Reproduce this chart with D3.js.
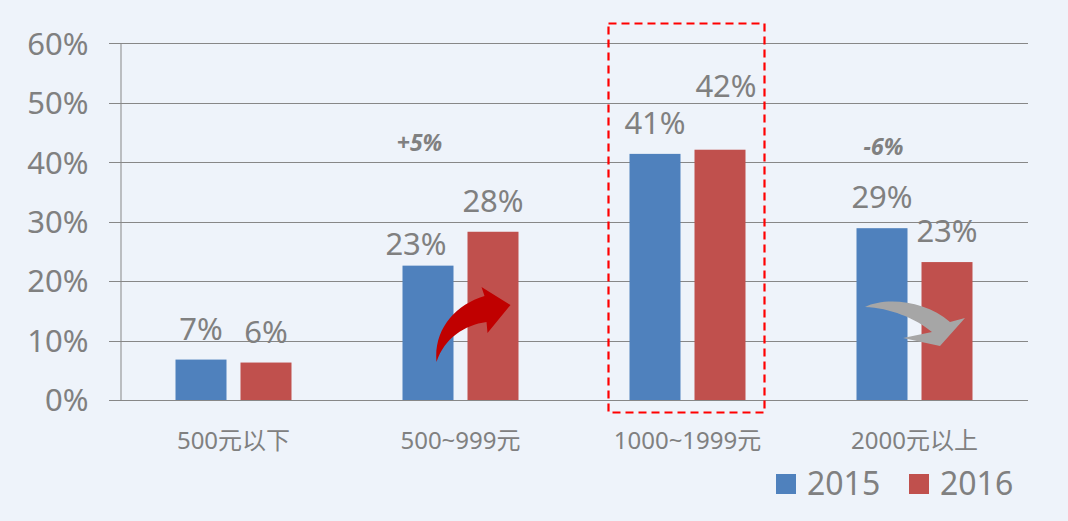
<!DOCTYPE html>
<html>
<head>
<meta charset="utf-8">
<script src="https://cdn.jsdelivr.net/npm/d3@7"></script>
<style>
  html, body { margin: 0; padding: 0; background: #EEF3FA; }
  svg { display: block; }
  text { font-family: "Noto Sans", "Noto Sans CJK SC", sans-serif; fill: #808080; }
</style>
</head>
<body>
<svg id="chart" width="1068" height="521"></svg>
<script>
// ---- data ----
const categories = ["500元以下", "500~999元", "1000~1999元", "2000元以上"];
const seriesNames = ["2015", "2016"];
const values2015 = [6.8, 22.6, 41.4, 28.9];
const values2016 = [6.3, 28.3, 42.1, 23.2];
const labels2015 = ["7%", "23%", "41%", "29%"];
const labels2016 = ["6%", "28%", "42%", "23%"];
const yTicks = [0, 10, 20, 30, 40, 50, 60];
const changeNotes = [{ cat: "500~999元", text: "+5%" }, { cat: "2000元以上", text: "-6%" }];
const highlightCategory = "1000~1999元";
const colors = { "2015": "#4F81BD", "2016": "#C0504D" };

// ---- layout ----
const svg = d3.select("#chart");
const W = 1068, H = 521;
svg.append("rect").attr("width", W).attr("height", H).attr("fill", "#EEF3FA");
const mLeft = 120, mRight = 1028, mTop = 43.3, mBottom = 400;

const x = d3.scaleBand().domain(categories).range([mLeft, mRight]).paddingInner(0).paddingOuter(0);
const x1 = d3.scaleBand().domain(seriesNames).range([0, x.bandwidth()]).paddingInner(0.2154).paddingOuter(0.854);
const y = d3.scaleLinear().domain([0, 60]).range([mBottom, mTop]);

// gridlines
svg.append("g").selectAll("line").data(yTicks).join("line")
  .attr("x1", mLeft - 11).attr("x2", mRight)
  .attr("y1", d => Math.round(y(d)) + 0.5).attr("y2", d => Math.round(y(d)) + 0.5)
  .attr("stroke", "#878787").attr("stroke-width", 1);

// y axis
const yAxis = d3.axisLeft(y).tickValues(yTicks).tickFormat(d => d + "%").tickSize(0).tickPadding(32);
const gy = svg.append("g").attr("transform", `translate(${mLeft + 0.5},0)`).call(yAxis);
gy.select(".domain").attr("stroke", "#878787");
gy.selectAll("text").style("font-size", "31px").attr("fill", "#808080").attr("dy", "0.35em")
  .attr("x", -32);

// bars
const rows = categories.map((c, i) => ({ cat: c, vals: [
  { s: "2015", v: values2015[i], label: labels2015[i] },
  { s: "2016", v: values2016[i], label: labels2016[i] }] }));

const groups = svg.append("g").selectAll("g").data(rows).join("g")
  .attr("transform", d => `translate(${x(d.cat)},0)`);
groups.selectAll("rect").data(d => d.vals).join("rect")
  .attr("x", d => x1(d.s)).attr("width", x1.bandwidth())
  .attr("y", d => y(d.v)).attr("height", d => y(0) - y(d.v))
  .attr("fill", d => colors[d.s]);

// data labels (two labels nudged as in the original)
const nudge = { "500~999元|2015": [-12, 9], "1000~1999元|2016": [6, -33] };
groups.each(function (row) {
  d3.select(this).selectAll("text.val").data(row.vals).join("text")
    .attr("class", "val")
    .attr("x", d => x1(d.s) + x1.bandwidth() / 2 + ((nudge[row.cat + "|" + d.s] || [0, 0])[0]))
    .attr("y", d => y(d.v) - 20 + ((nudge[row.cat + "|" + d.s] || [0, 0])[1]))
    .attr("text-anchor", "middle")
    .style("font-size", "31px")
    .text(d => d.label);
});

// x axis labels
svg.append("g").selectAll("text").data(categories).join("text")
  .attr("x", d => x(d) + x.bandwidth() / 2).attr("y", 449)
  .attr("text-anchor", "middle").style("font-size", "24px")
  .text(d => d);

// change notes
const noteDx = [-41, -31];
svg.append("g").selectAll("text").data(changeNotes).join("text")
  .attr("x", (d, i) => x(d.cat) + x.bandwidth() / 2 + noteDx[i])
  .attr("y", (d, i) => i === 0 ? 151 : 155)
  .attr("text-anchor", "middle")
  .style("font-size", "23px").style("font-weight", "bold").style("font-style", "italic")
  .text(d => d.text);

// curved arrows
const cx2 = x("500~999元") + x.bandwidth() / 2;
svg.append("path")
  .attr("transform", `translate(${cx2},${y(0)})`)
  .attr("d", "M-24,-38 C-27,-70 -6,-95 24,-104 L21,-113 L50,-95 L27,-67 L26,-78 C4,-75 -16,-62 -24,-38 Z")
  .attr("fill", "#C00000");
const cx4 = x("2000元以上") + x.bandwidth() / 2;
svg.append("path")
  .attr("transform", `translate(${cx4 - 30.5},${y(0)})`)
  .attr("d", "M-19,-93 C1,-103 41,-100 66,-78 L81,-82 L56,-54 L19,-62 L48,-68 C31,-82 6,-92 -19,-93 Z")
  .attr("fill", "#A6A6A6");

// highlight box
svg.append("rect")
  .attr("x", x(highlightCategory) + 34.5).attr("y", 23.5)
  .attr("width", 156).attr("height", 389)
  .attr("fill", "none").attr("stroke", "#FF0000").attr("stroke-width", 2.2)
  .attr("stroke-dasharray", "8,5");

// legend
const legend = svg.append("g").selectAll("g").data(seriesNames).join("g")
  .attr("transform", (d, i) => `translate(${776 + i * 133},474)`);
legend.append("rect").attr("width", 20).attr("height", 20).attr("fill", d => colors[d]);
legend.append("text").attr("x", 31).attr("y", 21).style("font-size", "32px").text(d => d);
</script>
</body>
</html>
